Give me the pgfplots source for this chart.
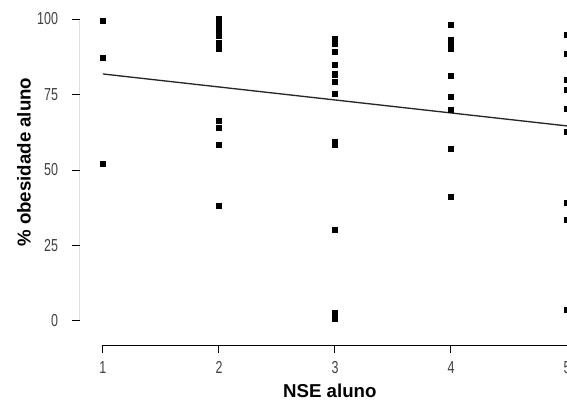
\documentclass[border=0pt]{standalone}
\usepackage{fontspec}
\setmainfont{Liberation Sans}
\usepackage{graphicx}
\usepackage{pgfplots}
\pgfplotsset{compat=1.18}
\begin{document}
\begin{tikzpicture}
\begin{axis}[
  scale only axis, width=365.25pt, height=258.75pt,
  xmin=0.802, xmax=5, ymin=-7.95, ymax=106.3,
  axis x line*=bottom, axis y line*=left,
  x axis line style={draw=none}, y axis line style={draw=none},
  xtick={1,2,3,4,5}, ytick={0,25,50,75,100},
  tick align=outside, major tick length=6pt,
  tick style={black, line width=0.75pt},
  /pgf/number format/assume math mode=true,
  xticklabel={\scalebox{0.72}[1]{\fontsize{13}{13}\selectfont\pgfmathprintnumber{\tick}}},
  yticklabel={\scalebox{0.72}[1]{\fontsize{13}{13}\selectfont\pgfmathprintnumber{\tick}}},
  ticklabel style={text=black!75},
  xticklabel style={yshift=-3pt},
  yticklabel style={xshift=-7pt},
  every axis x label/.style={at={(rel axis cs:0.513,0)}, anchor=base, yshift=-39pt},
  every axis y label/.style={at={(rel axis cs:0,0.53)}, anchor=center, xshift=-42pt, rotate=90},
  xlabel={\fontsize{14}{14}\selectfont\bfseries NSE aluno},
  ylabel={\fontsize{14}{14}\selectfont\bfseries \% obesidade aluno},
  clip=true,
]
\addplot[black!85, line width=1pt] coordinates {(1,81.8) (5,64.6)};
\addplot[only marks, mark=square*, mark size=1.9pt, black] coordinates {
  (1,99.3) (1,87.2) (1,52.1)
  (2,100) (2,98.3) (2,97.0) (2,95.7) (2,94.4) (2,92.1) (2,90.1)
  (2,66.3) (2,64.1) (2,58.3) (2,38.2)
  (3,93.4) (3,91.7) (3,89.3) (3,84.7) (3,81.7) (3,79.2) (3,75.3)
  (3,59.2) (3,58.4) (3,30.2) (3,2.6) (3,0.6)
  (4,98.1) (4,93.0) (4,91.9) (4,90.1) (4,81.2) (4,74.2) (4,70.0)
  (4,57.1) (4,41.2)
  (5,94.7) (5,88.6) (5,79.8) (5,76.7) (5,70.4) (5,62.7) (5,39.0)
  (5,33.4) (5,3.6)
};
\draw[line width=0.75pt] (axis cs:1,-7.95) -- (axis cs:5,-7.95);
\draw[line width=0.75pt] (axis cs:0.802,0) -- (axis cs:0.802,100);
\coordinate (ll) at (rel axis cs:0,0);
\coordinate (ur) at (rel axis cs:1,1);
\end{axis}
\pgfresetboundingbox
\path ([xshift=-60pt,yshift=-47.25pt]ll) rectangle (ur);
\end{tikzpicture}
\end{document}
